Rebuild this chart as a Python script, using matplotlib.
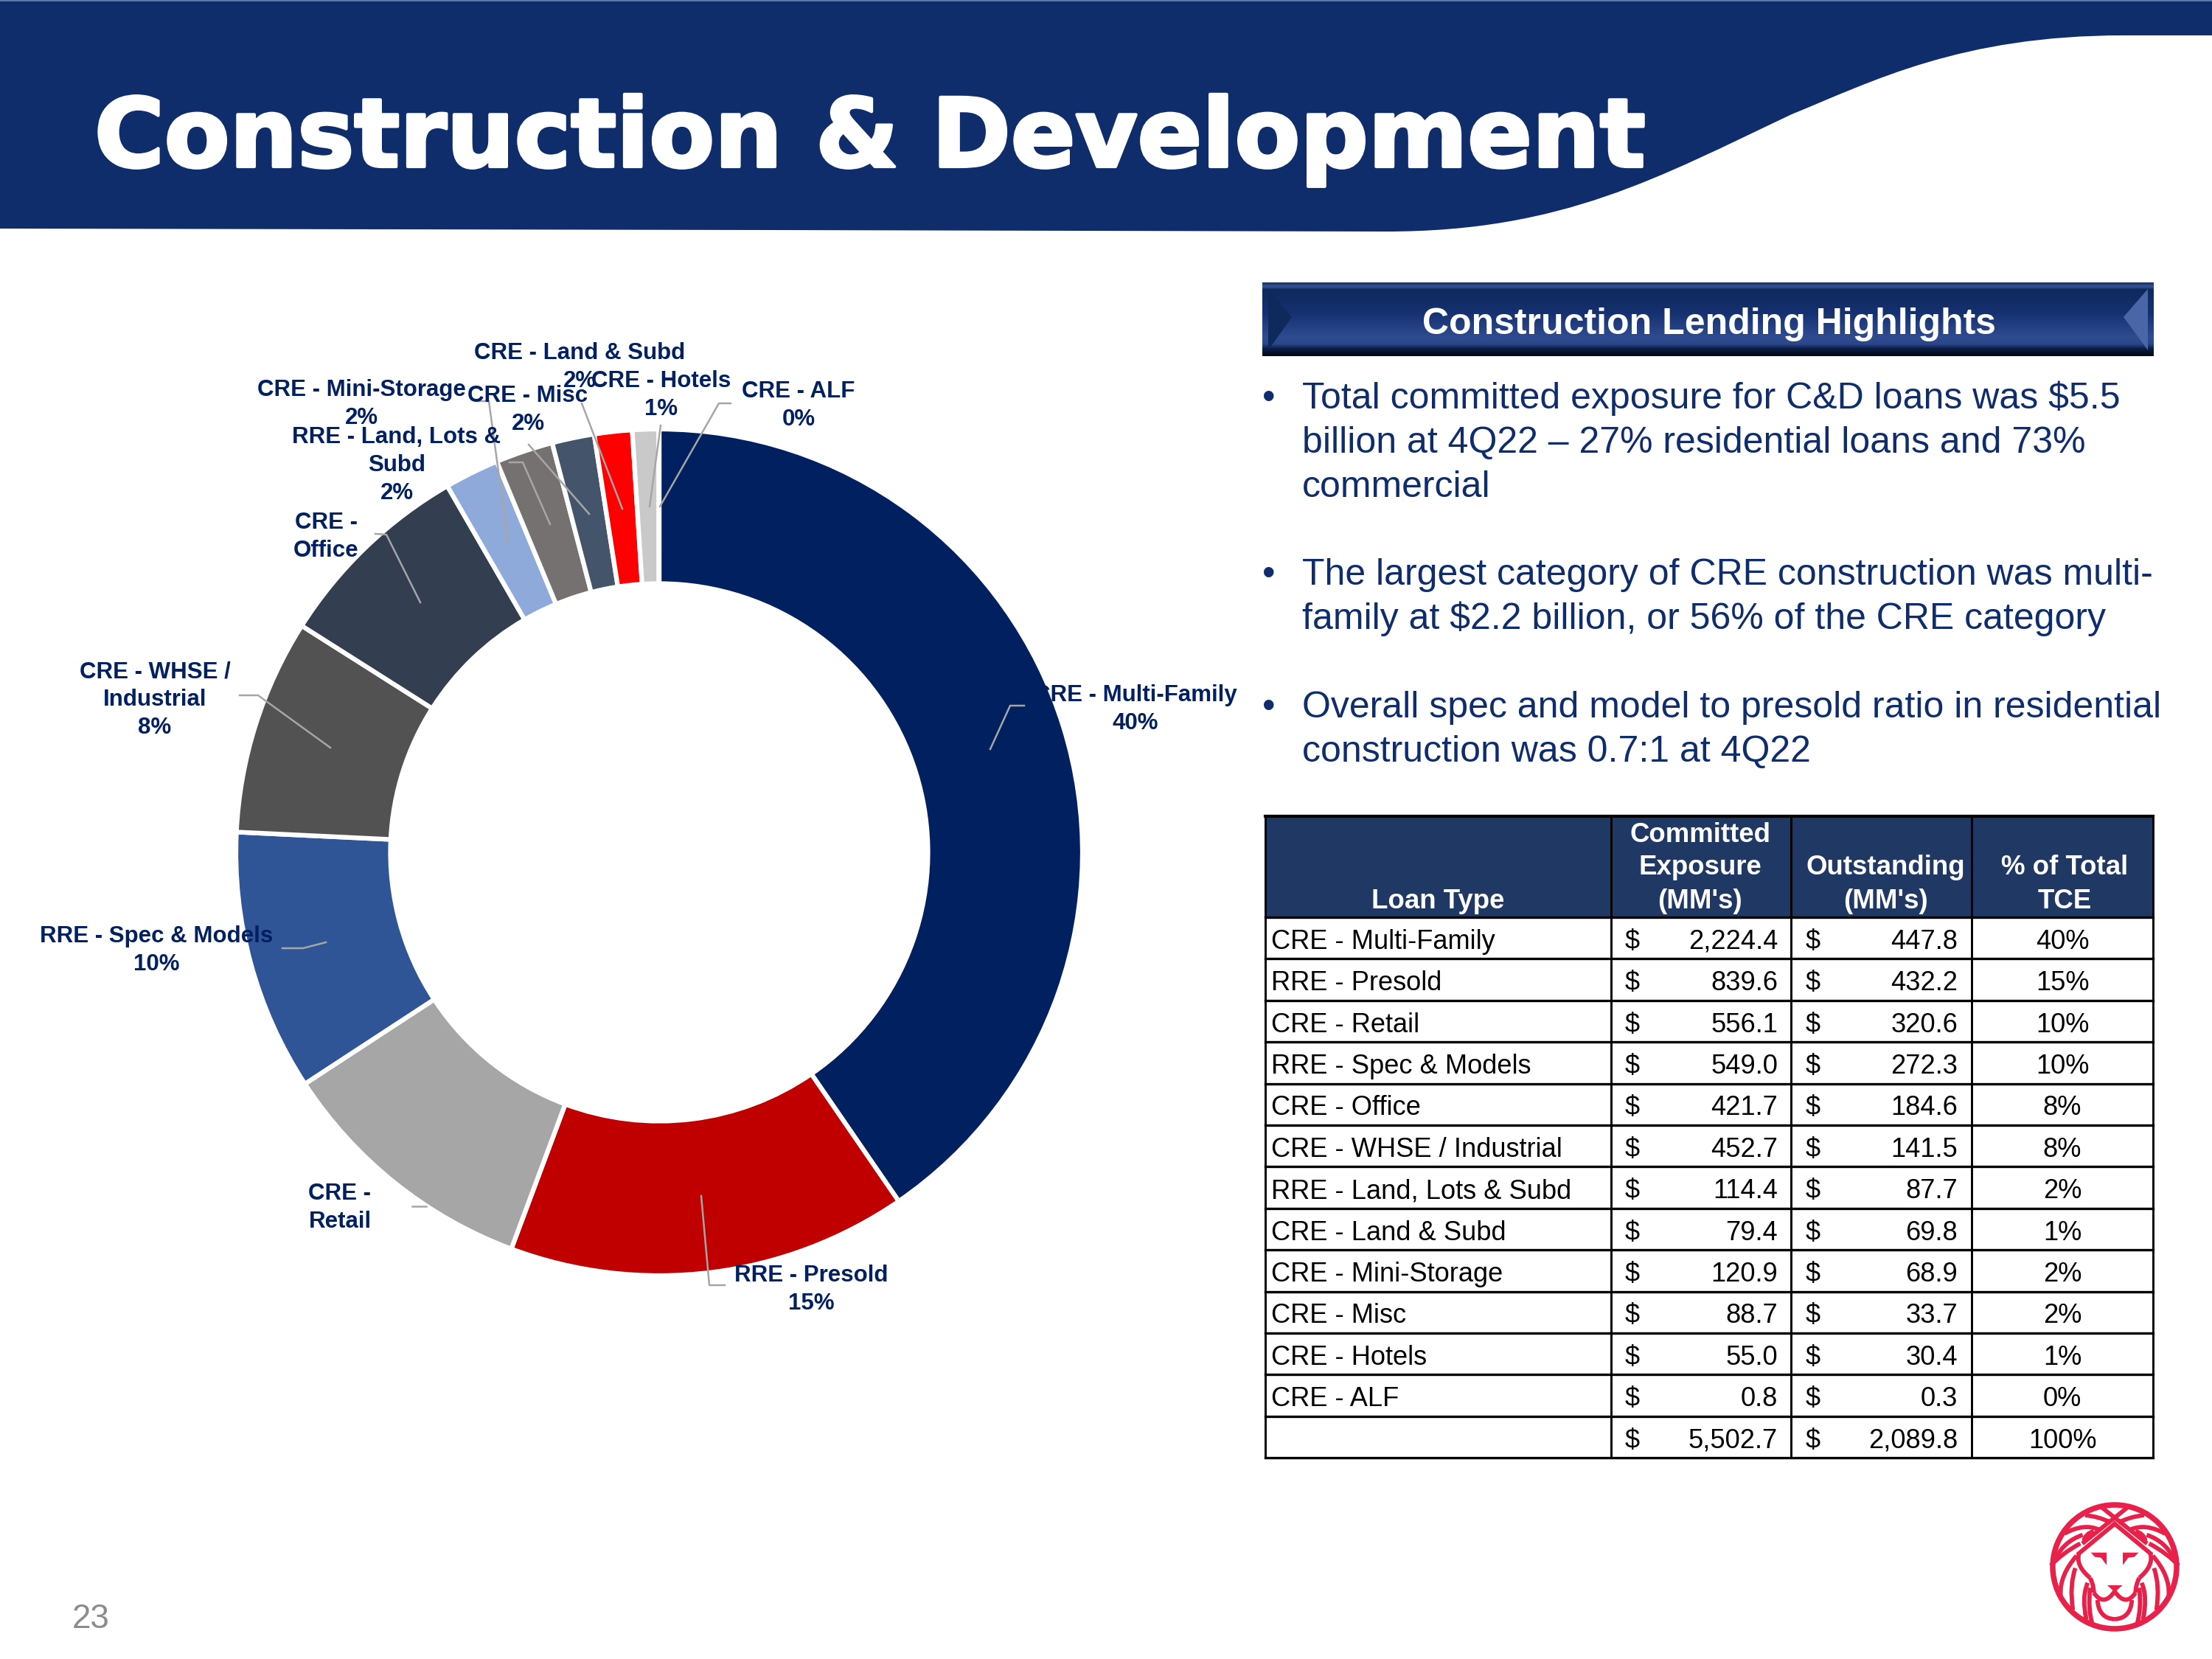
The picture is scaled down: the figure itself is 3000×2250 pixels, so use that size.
import numpy as np
import matplotlib
matplotlib.use('Agg')
import matplotlib.pyplot as plt
import matplotlib.patheffects as pe
from matplotlib.colors import LinearSegmentedColormap
from matplotlib.patches import Circle, PathPatch, Polygon, Rectangle
from matplotlib.path import Path

plt.rcParams['font.family'] = ['Liberation Sans', 'DejaVu Sans']

# Table data
loan_types = ['CRE - Multi-Family', 'RRE - Presold', 'CRE - Retail', 'RRE - Spec & Models',
              'CRE - Office', 'CRE - WHSE / Industrial', 'RRE - Land, Lots & Subd',
              'CRE - Land & Subd', 'CRE - Mini-Storage', 'CRE - Misc', 'CRE - Hotels', 'CRE - ALF']
committed = [2224.4, 839.6, 556.1, 549.0, 421.7, 452.7, 114.4, 79.4, 120.9, 88.7, 55.0, 0.8]
outstanding = [447.8, 432.2, 320.6, 272.3, 184.6, 141.5, 87.7, 69.8, 68.9, 33.7, 30.4, 0.3]
pct_tce = ['40%', '15%', '10%', '10%', '8%', '8%', '2%', '1%', '2%', '2%', '1%', '0%']
total_row = ['', '5,502.7', '2,089.8', '100%']

# Donut slices, clockwise from the top
donut_types = ['CRE - Multi-Family', 'RRE - Presold', 'CRE - Retail', 'RRE - Spec & Models',
               'CRE - WHSE / Industrial', 'CRE - Office', 'RRE - Land, Lots & Subd',
               'CRE - Mini-Storage', 'CRE - Misc', 'CRE - Land & Subd', 'CRE - Hotels', 'CRE - ALF']
donut_colors = ['#002060', '#C00000', '#A6A6A6', '#2F5597', '#525252', '#333F50',
                '#8EAADB', '#767171', '#44546A', '#FF0000', '#C9C9C9', '#DDDDDD']
donut_values = [committed[loan_types.index(n)] for n in donut_types]

bullets = [
    ['Total committed exposure for C&D loans was $5.5',
     'billion at 4Q22 \u2013 27% residential loans and 73%',
     'commercial'],
    ['The largest category of CRE construction was multi-',
     'family at $2.2 billion, or 56% of the CRE category'],
    ['Overall spec and model to presold ratio in residential',
     'construction was 0.7:1 at 4Q22'],
]

NAVY = '#0F2D6B'
LABEL = '#002060'
LEADER = '#A6A6A6'
LION = '#E8214A'

fig = plt.figure(figsize=(10, 7.5), dpi=300, facecolor='white')

# Donut
cx, cy, R = 894, 1156, 574
ax_pie = fig.add_axes([(cx - R) / 3000, 1 - (cy + R) / 2250, 2 * R / 3000, 2 * R / 2250])
ax_pie.pie(donut_values, colors=donut_colors, startangle=90, counterclock=False, radius=1,
           wedgeprops=dict(width=0.365, edgecolor='white', linewidth=1.5))
ax_pie.set_xlim(-1, 1)
ax_pie.set_ylim(-1, 1)
ax_pie.axis('off')

# Everything else is placed in pixel coordinates on an overlay
ax = fig.add_axes([0, 0, 1, 1], facecolor='none')
ax.set_xlim(0, 3000)
ax.set_ylim(2250, 0)
ax.axis('off')

# Header banner with the curved right edge
banner = Path(
    [(0, 0), (3000, 0), (3000, 48), (2880, 48),
     (2660, 48), (2540, 110), (2430, 155),
     (2250, 240), (2120, 314), (1880, 314),
     (1052, 312), (0, 310), (0, 0)],
    [Path.MOVETO, Path.LINETO, Path.LINETO, Path.LINETO,
     Path.CURVE4, Path.CURVE4, Path.CURVE4,
     Path.CURVE4, Path.CURVE4, Path.CURVE4,
     Path.LINETO, Path.LINETO, Path.CLOSEPOLY])
ax.add_patch(PathPatch(banner, facecolor=NAVY, edgecolor='none'))
ax.plot([0, 3000], [1, 1], color='#6F86B5', lw=0.4)
title = ax.text(128, 226, 'Construction & Development', color='white', fontsize=31, fontweight='bold',
                family='DejaVu Sans', va='baseline', ha='left')
title.set_path_effects([pe.withStroke(linewidth=1.0, foreground='white')])

# Highlights bar
bar_cmap = LinearSegmentedColormap.from_list('bar', [
    (0.0, '#16336F'), (0.05, '#3A5596'), (0.09, '#0E2A5C'), (0.4, '#15306F'),
    (0.75, '#2E4C90'), (0.84, '#2A4788'), (0.9, '#0A1F48'), (1.0, '#000814')])
ax.imshow(np.linspace(0, 1, 100).reshape(-1, 1), cmap=bar_cmap, extent=(1712, 2921, 483, 383),
          aspect='auto', zorder=1)
ax.set_xlim(0, 3000)
ax.set_ylim(2250, 0)
ax.add_patch(Polygon([(1720, 392), (1752, 430), (1720, 475)], facecolor='#0E2A5C', zorder=2))
ax.add_patch(Polygon([(2913, 392), (2880, 430), (2913, 475)], facecolor='#4A66A6', zorder=2))
ax.text(2318, 440, 'Construction Lending Highlights', color='white', fontsize=12, fontweight='bold',
        ha='center', va='center', zorder=3)

# Bullet list
line_y = [[554, 614, 674], [793, 853], [973, 1033]]
for lines, ys in zip(bullets, line_y):
    ax.text(1712, ys[0], '\u2022', color=NAVY, fontsize=12, va='baseline', ha='left')
    for line, y in zip(lines, ys):
        ax.text(1766, y, line, color=NAVY, fontsize=12, va='baseline', ha='left')

# Donut labels and leader lines
donut_labels = [
    ('CRE - Land & Subd\n2%', 786, 498),
    ('CRE - Hotels\n1%', 897, 536),
    ('CRE - ALF\n0%', 1083, 550),
    ('CRE - Mini-Storage\n2%', 490, 548),
    ('CRE - Misc\n2%', 716, 556),
    ('RRE - Land, Lots &\nSubd\n2%', 538, 631),
    ('CRE -\nOffice', 442, 728),
    ('CRE - WHSE /\nIndustrial\n8%', 210, 949),
    ('CRE - Multi-Family\n40%', 1540, 962),
    ('RRE - Spec & Models\n10%', 212, 1289),
    ('CRE -\nRetail', 461, 1638),
    ('RRE - Presold\n15%', 1100, 1749),
]
for text, x, y in donut_labels:
    ax.text(x, y, text, color=LABEL, fontsize=7.5, fontweight='bold', ha='center', va='center',
            linespacing=1.33)

leaders = [
    [(991, 547), (975, 547), (895, 687)],
    [(896, 577), (881, 687)],
    [(789, 547), (844, 690)],
    [(717, 603), (799, 697)],
    [(691, 627), (709, 627), (746, 711)],
    [(649, 544), (663, 544), (689, 735)],
    [(509, 724), (524, 725), (570, 817)],
    [(1389, 957), (1370, 957), (1343, 1016)],
    [(325, 943), (350, 943), (448, 1014)],
    [(383, 1286), (411, 1286), (442, 1278)],
    [(559, 1636), (578, 1636)],
    [(983, 1743), (962, 1743), (951, 1622)],
]
for pts in leaders:
    xs, ys = zip(*pts)
    ax.plot(xs, ys, color=LEADER, lw=0.6)

# Table
col_x = [1716, 2185, 2429, 2674, 2920]
table_top, head_bottom, row_h = 1107, 1244, 56.4
n_rows = len(loan_types) + 1
table_bottom = head_bottom + n_rows * row_h
ax.add_patch(Rectangle((col_x[0], table_top), col_x[-1] - col_x[0], head_bottom - table_top,
                       facecolor='#1F3864', edgecolor='none'))
for x in col_x:
    ax.plot([x, x], [table_top, table_bottom], color='black', lw=0.7, solid_capstyle='butt')
ax.plot([col_x[0], col_x[-1]], [table_top, table_top], color='black', lw=1.0)
for i in range(n_rows + 1):
    y = head_bottom + i * row_h
    ax.plot([col_x[0], col_x[-1]], [y, y], color='black', lw=0.8)

header_cells = [(1950, ['Loan Type'], [1222]),
                (2306, ['Committed', 'Exposure', "(MM's)"], [1132, 1177, 1222]),
                (2557, ['Outstanding', "(MM's)"], [1177, 1222]),
                (2800, ['% of Total', 'TCE'], [1177, 1222])]
for x, lines, ys in header_cells:
    for line, y in zip(lines, ys):
        ax.text(x, y, line, color='white', fontsize=8.8, fontweight='bold', ha='center', va='center')

def draw_row(i, name, c_text, o_text, p_text):
    y = head_bottom + (i + 0.5) * row_h + 5
    kw = dict(color='black', fontsize=8.7, va='center')
    ax.text(1724, y, name, ha='left', **kw)
    ax.text(2204, y, '$', ha='left', **kw)
    ax.text(2411, y, c_text, ha='right', **kw)
    ax.text(2449, y, '$', ha='left', **kw)
    ax.text(2655, y, o_text, ha='right', **kw)
    ax.text(2797, y, p_text, ha='center', **kw)

for i, name in enumerate(loan_types):
    draw_row(i, name, f'{committed[i]:,.1f}', f'{outstanding[i]:,.1f}', pct_tce[i])
draw_row(len(loan_types), *total_row)

# Page number
ax.text(98, 2196, '23', color='#8C8C8C', fontsize=11, va='center', ha='left')

# Lion logo, one half of the strokes is mirrored across the centre line
lx, ly, ls = 2868, 2125, 1 / 3

def logo_xy(pts, mirror=False):
    out = []
    for x, y in pts:
        dx = (x - 505) * ls
        out.append((lx + (-dx if mirror else dx), ly + (y - 525) * ls))
    return out

ax.add_patch(Circle((lx, ly), 84, facecolor='none', edgecolor=LION, lw=1.8))
curves = [
    [(385, 315), (440, 320), (490, 345)],
    [(300, 390), (380, 345), (445, 375)],
    [(265, 490), (300, 420), (375, 395)],
    [(380, 420), (385, 390), (420, 380)],
    [(245, 520), (290, 470), (365, 430)],
    [(285, 640), (280, 560), (350, 480)],
    [(335, 700), (320, 600), (345, 530)],
    [(390, 740), (370, 650), (395, 590)],
    [(415, 760), (395, 700), (405, 610)],
    [(360, 470), (345, 520), (405, 570)],
    [(405, 570), (420, 600), (420, 630)],
    [(420, 630), (460, 690), (505, 625)],
    [(435, 660), (440, 735), (505, 738)],
]
straight = [[(555, 285), (380, 425)], [(505, 350), (360, 470)]]
eye = [(408, 467), (472, 467), (472, 518), (450, 488), (425, 485)]
for mirror in (False, True):
    for pts in curves:
        p = Path(logo_xy(pts, mirror), [Path.MOVETO, Path.CURVE3, Path.CURVE3])
        ax.add_patch(PathPatch(p, facecolor='none', edgecolor=LION, lw=1.4))
    for pts in straight:
        xs, ys = zip(*logo_xy(pts, mirror))
        ax.plot(xs, ys, color=LION, lw=1.4)
    ax.add_patch(Polygon(logo_xy(eye, mirror), facecolor=LION, edgecolor='none'))
ax.add_patch(Polygon(logo_xy([(475, 600), (537, 600), (505, 628)]), facecolor=LION, edgecolor='none'))

fig.savefig('out.png', dpi=300)
